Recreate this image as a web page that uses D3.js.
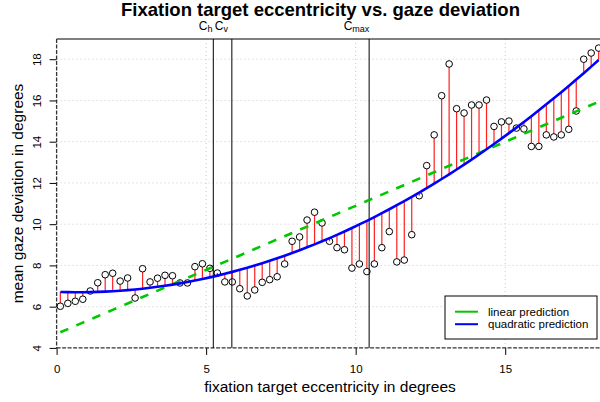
<!DOCTYPE html>
<html><head><meta charset="utf-8">
<script src="https://cdn.jsdelivr.net/npm/d3@7"></script>
<style>body{margin:0;background:#fff}svg{display:block;font-family:"Liberation Sans",Arial,sans-serif}</style>
</head><body>
<svg id="c" width="600" height="402"></svg>
<script>
const eccentricity = [0.125,0.375,0.625,0.875,1.125,1.375,1.625,1.875,2.125,2.375,2.625,2.875,3.125,3.375,3.625,3.875,4.125,4.375,4.625,4.875,5.125,5.375,5.625,5.875,6.125,6.375,6.625,6.875,7.125,7.375,7.625,7.875,8.125,8.375,8.625,8.875,9.125,9.375,9.625,9.875,10.125,10.375,10.625,10.875,11.125,11.375,11.625,11.875,12.125,12.375,12.625,12.875,13.125,13.375,13.625,13.875,14.125,14.375,14.625,14.875,15.125,15.375,15.625,15.875,16.125,16.375,16.625,16.875,17.125,17.375,17.625,17.875,18.125];
const gazeDeviation = [6.02,6.16,6.26,6.36,6.76,7.16,7.55,7.62,7.24,7.39,6.42,7.84,7.20,7.38,7.52,7.50,7.15,7.15,7.94,8.08,7.86,7.63,7.20,7.20,6.87,6.52,6.81,7.18,7.31,7.45,8.07,9.17,9.38,10.20,10.58,10.06,9.17,8.86,8.76,7.87,8.07,7.70,8.07,8.86,9.64,8.17,8.26,9.49,11.38,12.84,14.33,16.23,17.77,15.60,15.39,15.78,15.78,16.02,14.74,14.96,15.00,14.66,14.62,13.77,13.77,14.33,14.23,14.33,14.60,15.49,18.00,18.30,18.54];
const linearCoef = [4.68, 0.621];
const quadCoef = [6.72, -0.054, 0.0372];
const markerNames = ["h","v","max"];
const markerValues = [5.24, 5.86, 10.45];
const xTicks = [0,5,10,15];
const yTicks = [4,6,8,10,12,14,16,18];
const legendLabels = ["linear prediction","quadratic prediction"];
const titleText = "Fixation target eccentricity vs. gaze deviation";
const xLabel = "fixation target eccentricity in degrees";
const yLabel = "mean gaze deviation in degrees";

const svg = d3.select("#c");
const L=56.6, R=603, T=39, B=347.9;
const x = d3.scaleLinear().domain([0,18.27]).range([L,R]);
const y = d3.scaleLinear().domain([4,18.98]).range([B,T]);
const lin = v => linearCoef[0]+linearCoef[1]*v;
const quad = v => quadCoef[0]+quadCoef[1]*v+quadCoef[2]*v*v;

// grid
const grid = svg.append("g").attr("stroke","#c8c8c8").attr("stroke-dasharray","1,3").attr("stroke-width",1);
grid.selectAll("line.v").data(xTicks.filter(d=>d>0)).join("line").attr("x1",d=>x(d)).attr("x2",d=>x(d)).attr("y1",T).attr("y2",B);
grid.selectAll("line.h").data(yTicks.filter(d=>d>4)).join("line").attr("x1",L).attr("x2",600).attr("y1",d=>y(d)).attr("y2",d=>y(d));

// axes
const xa = svg.append("g").attr("transform",`translate(0,${B})`).call(d3.axisBottom(x).tickValues(xTicks).tickSize(7).tickPadding(10).tickFormat(d3.format("d")));
xa.select(".domain").remove();
xa.selectAll("text").attr("font-size",11.5).attr("fill","#000").attr("font-family","Liberation Sans, Arial, sans-serif");
const ya = svg.append("g").attr("transform",`translate(${L},0)`).call(d3.axisLeft(y).tickValues(yTicks).tickSize(7).tickFormat(d3.format("d")));
ya.select(".domain").remove();
ya.selectAll("text").attr("font-size",11.5).attr("fill","#000").attr("font-family","Liberation Sans, Arial, sans-serif")
  .attr("x",null).attr("dy",null).attr("text-anchor","middle").attr("transform","translate(-16,0) rotate(-90)");

// box
svg.append("line").attr("x1",L).attr("x2",600).attr("y1",T).attr("y2",T).attr("stroke","#555").attr("stroke-width",1.5);
svg.append("line").attr("x1",L).attr("x2",600).attr("y1",B).attr("y2",B).attr("stroke","#333").attr("stroke-width",1.3).attr("stroke-dasharray","4,1.5");
svg.append("line").attr("x1",L).attr("x2",L).attr("y1",T).attr("y2",B).attr("stroke","#333").attr("stroke-width",1.3).attr("stroke-dasharray","4,1.5");

// marker lines
svg.append("g").selectAll("line").data(markerValues).join("line")
  .attr("x1",d=>x(d)).attr("x2",d=>x(d)).attr("y1",T).attr("y2",B).attr("stroke","#000").attr("stroke-width",1);
const mdx = [-14.5,-17,-25.5];
const mt = svg.append("g").attr("font-size",12);
markerValues.forEach((v,i)=>{
  const t = mt.append("text").attr("x",x(v)+mdx[i]).attr("y",30).attr("text-anchor","start");
  t.append("tspan").text("C");
  t.append("tspan").text(markerNames[i]).attr("font-size",9).attr("dy",2);
});

const pts = eccentricity.map((e,i)=>({x:e,y:gazeDeviation[i]}));
const r = 3.3;
// residual segments
svg.append("g").selectAll("line").data(pts).join("line")
  .attr("x1",d=>x(d.x)).attr("x2",d=>x(d.x))
  .attr("y1",d=>{const s=y(d.y), e=y(quad(d.x)); return Math.abs(e-s)<r? s : s+(e>s? r:-r);})
  .attr("y2",d=>y(quad(d.x)))
  .attr("stroke","#ff2020").attr("stroke-width",1.2);

// points
svg.append("g").selectAll("circle").data(pts).join("circle")
  .attr("cx",d=>x(d.x)).attr("cy",d=>y(d.y)).attr("r",r).attr("fill","none").attr("stroke","#000").attr("stroke-width",1);

// prediction lines
svg.append("path").datum(eccentricity).attr("d",d3.line().x(d=>x(d)).y(d=>y(lin(d))))
  .attr("fill","none").attr("stroke","#00c800").attr("stroke-width",2.6).attr("stroke-dasharray","8.7,8.7");
svg.append("path").datum(eccentricity).attr("d",d3.line().x(d=>x(d)).y(d=>y(quad(d))))
  .attr("fill","none").attr("stroke","#0000ff").attr("stroke-width",2.6);

// legend
const lg = svg.append("g");
lg.append("rect").attr("x",445).attr("y",296).attr("width",152).attr("height",43).attr("fill","#fff").attr("stroke","#000").attr("stroke-width",1);
const lc = ["#00c800","#0000ff"];
legendLabels.forEach((s,i)=>{
  const yy = 311.7 + i*12.5;
  lg.append("line").attr("x1",455).attr("x2",478).attr("y1",yy).attr("y2",yy).attr("stroke",lc[i]).attr("stroke-width",2);
  lg.append("text").attr("x",488).attr("y",yy+4).attr("font-size",11.5).text(s);
});

// titles
svg.append("text").attr("x",320.5).attr("y",16).attr("text-anchor","middle").attr("font-size",18.5).attr("font-weight","bold").text(titleText);
svg.append("text").attr("x",330).attr("y",392).attr("text-anchor","middle").attr("font-size",15.5).text(xLabel);
svg.append("text").attr("transform","translate(23,193.5) rotate(-90)").attr("text-anchor","middle").attr("font-size",15.5).text(yLabel);
</script>
</body></html>
